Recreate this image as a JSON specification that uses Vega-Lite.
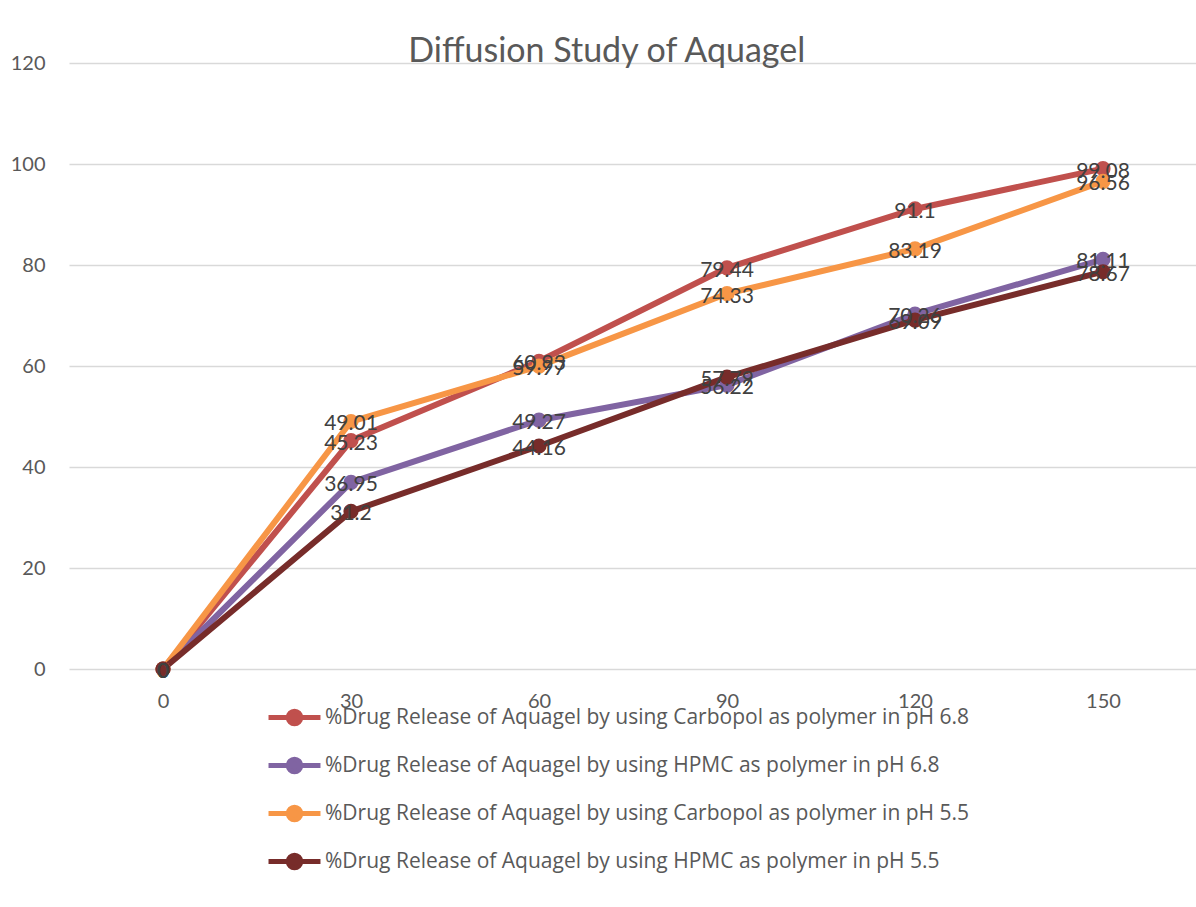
{
  "$schema": "https://vega.github.io/schema/vega-lite/v6.json",
  "autosize": "none",
  "width": 1128,
  "height": 606,
  "padding": {"left": 69, "top": 63, "right": 0, "bottom": 238},
  "background": "white",
  "title": {"text": "Diffusion Study of Aquagel", "font": "Lato", "fontSize": 34, "fontWeight": "normal", "color": "#595959", "anchor": "start", "dx": 398, "dy": 16, "offset": 0},
  "data": {"values": [
    {"time": "0", "series": "%Drug Release of Aquagel by using Carbopol as polymer in pH 6.8", "value": 0},
    {"time": "30", "series": "%Drug Release of Aquagel by using Carbopol as polymer in pH 6.8", "value": 45.23},
    {"time": "60", "series": "%Drug Release of Aquagel by using Carbopol as polymer in pH 6.8", "value": 60.93},
    {"time": "90", "series": "%Drug Release of Aquagel by using Carbopol as polymer in pH 6.8", "value": 79.44},
    {"time": "120", "series": "%Drug Release of Aquagel by using Carbopol as polymer in pH 6.8", "value": 91.1},
    {"time": "150", "series": "%Drug Release of Aquagel by using Carbopol as polymer in pH 6.8", "value": 99.08},
    {"time": "0", "series": "%Drug Release of Aquagel by using HPMC as polymer in pH 6.8", "value": 0},
    {"time": "30", "series": "%Drug Release of Aquagel by using HPMC as polymer in pH 6.8", "value": 36.95},
    {"time": "60", "series": "%Drug Release of Aquagel by using HPMC as polymer in pH 6.8", "value": 49.27},
    {"time": "90", "series": "%Drug Release of Aquagel by using HPMC as polymer in pH 6.8", "value": 56.22},
    {"time": "120", "series": "%Drug Release of Aquagel by using HPMC as polymer in pH 6.8", "value": 70.26},
    {"time": "150", "series": "%Drug Release of Aquagel by using HPMC as polymer in pH 6.8", "value": 81.11},
    {"time": "0", "series": "%Drug Release of Aquagel by using Carbopol as polymer in pH 5.5", "value": 0},
    {"time": "30", "series": "%Drug Release of Aquagel by using Carbopol as polymer in pH 5.5", "value": 49.01},
    {"time": "60", "series": "%Drug Release of Aquagel by using Carbopol as polymer in pH 5.5", "value": 59.97},
    {"time": "90", "series": "%Drug Release of Aquagel by using Carbopol as polymer in pH 5.5", "value": 74.33},
    {"time": "120", "series": "%Drug Release of Aquagel by using Carbopol as polymer in pH 5.5", "value": 83.19},
    {"time": "150", "series": "%Drug Release of Aquagel by using Carbopol as polymer in pH 5.5", "value": 96.56},
    {"time": "0", "series": "%Drug Release of Aquagel by using HPMC as polymer in pH 5.5", "value": 0},
    {"time": "30", "series": "%Drug Release of Aquagel by using HPMC as polymer in pH 5.5", "value": 31.2},
    {"time": "60", "series": "%Drug Release of Aquagel by using HPMC as polymer in pH 5.5", "value": 44.16},
    {"time": "90", "series": "%Drug Release of Aquagel by using HPMC as polymer in pH 5.5", "value": 57.79},
    {"time": "120", "series": "%Drug Release of Aquagel by using HPMC as polymer in pH 5.5", "value": 69.09},
    {"time": "150", "series": "%Drug Release of Aquagel by using HPMC as polymer in pH 5.5", "value": 78.67}
  ]},
  "encoding": {
    "x": {"field": "time", "type": "ordinal", "sort": null, "scale": {"type": "point", "padding": 0.5}, "title": null,
      "axis": {"labelAngle": 0, "labelFont": "Lato", "labelFontSize": 20, "labelColor": "#595959", "labelPadding": 22, "ticks": false, "domain": false, "grid": false}},
    "y": {"field": "value", "type": "quantitative", "scale": {"domain": [0, 120]}, "title": null,
      "axis": {"values": [0, 20, 40, 60, 80, 100, 120], "labelFont": "Lato", "labelFontSize": 20, "labelColor": "#595959", "labelPadding": 24, "ticks": false, "domain": false, "gridColor": "#d9d9d9", "gridWidth": 1.3}},
    "color": {"field": "series", "type": "nominal", "title": null,
      "scale": {"domain": [
        "%Drug Release of Aquagel by using Carbopol as polymer in pH 6.8",
        "%Drug Release of Aquagel by using HPMC as polymer in pH 6.8",
        "%Drug Release of Aquagel by using Carbopol as polymer in pH 5.5",
        "%Drug Release of Aquagel by using HPMC as polymer in pH 5.5"],
        "range": ["#C0504D", "#8064A2", "#F79646", "#772C2A"]}}
  },
  "layer": [
    {"mark": {"type": "line", "strokeWidth": 6}},
    {"mark": {"type": "point", "filled": true, "size": 230, "opacity": 1},
      "encoding": {"color": {"field": "series", "type": "nominal", "legend": {
        "orient": "none", "legendX": 197, "legendY": 626, "direction": "vertical",
        "symbolType": "M-1,0L1,0M0.24,0A0.24,0.24 0 1,1 -0.24,0A0.24,0.24 0 1,1 0.24,0Z",
        "symbolSize": 2700, "symbolStrokeWidth": 5, "rowPadding": 3,
        "labelFont": "Open Sans", "labelFontSize": 21, "labelColor": "#595959", "labelOffset": 2, "labelLimit": 900}}}},
    {"mark": {"type": "text", "font": "Lato", "fontSize": 21, "color": "#404040", "baseline": "middle", "dy": 3},
      "encoding": {"text": {"field": "value", "type": "quantitative"}, "color": {"value": "#404040"}}}
  ],
  "config": {"view": {"stroke": null}}
}
